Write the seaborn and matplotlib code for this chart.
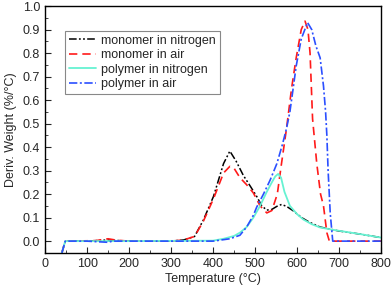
import matplotlib
matplotlib.use("Agg")
import matplotlib.pyplot as plt
from matplotlib.ticker import MultipleLocator, FormatStrFormatter
import seaborn as sns

# DTG curves
t_mono_n2 = [40, 48, 100, 150, 200, 300, 330, 356, 377, 401, 425, 440, 455, 472, 490, 504, 516,
             528, 540, 552, 563, 575, 590, 611, 630, 655, 700, 750, 800]
d_mono_n2 = [-0.05, 0.0, 0.0, 0.005, 0.0, 0.0, 0.005, 0.02, 0.09, 0.19, 0.33, 0.383, 0.34, 0.28,
             0.23, 0.19, 0.15, 0.132, 0.135, 0.148, 0.156, 0.148, 0.13, 0.1, 0.08, 0.06, 0.043,
             0.03, 0.015]

t_mono_air = [40, 48, 120, 150, 170, 200, 300, 330, 356, 377, 401, 425, 440, 450, 464, 480, 496,
              512, 528, 540, 553, 563, 575, 587, 598, 610, 619, 626, 631, 637, 647, 656, 663, 671,
              677, 700, 800]
d_mono_air = [-0.05, 0.0, 0.002, 0.01, 0.004, 0.0, 0.0, 0.005, 0.02, 0.085, 0.18, 0.29, 0.318,
              0.31, 0.27, 0.24, 0.205, 0.15, 0.12, 0.13, 0.2, 0.33, 0.48, 0.65, 0.78, 0.9, 0.936,
              0.9, 0.8, 0.52, 0.33, 0.2, 0.15, 0.036, 0.0, 0.0, 0.0]

t_poly_n2 = [40, 48, 200, 400, 425, 450, 464, 480, 496, 512, 528, 540, 548, 555, 562, 570, 583,
             600, 615, 635, 655, 680, 700, 750, 800]
d_poly_n2 = [-0.05, 0.0, 0.0, 0.002, 0.01, 0.022, 0.036, 0.06, 0.1, 0.15, 0.21, 0.25, 0.275,
             0.286, 0.27, 0.21, 0.15, 0.115, 0.092, 0.072, 0.058, 0.05, 0.044, 0.03, 0.015]

t_poly_air = [40, 48, 100, 150, 160, 300, 400, 440, 464, 480, 496, 504, 520, 536, 552, 565, 575,
              583, 590, 598, 610, 625, 635, 645, 655, 663, 668, 671, 674, 679, 685, 700, 800]
d_poly_air = [-0.05, 0.0, 0.0, -0.005, 0.0, 0.0, 0.0, 0.01, 0.025, 0.06, 0.11, 0.145, 0.2, 0.26,
              0.33, 0.41, 0.48, 0.55, 0.64, 0.745, 0.86, 0.93, 0.9, 0.83, 0.78, 0.66, 0.55, 0.45,
              0.3, 0.12, 0.0, 0.0, 0.0]

sns.set_style("ticks")
plt.rcParams['font.family'] = ['Liberation Sans', 'DejaVu Sans']

fig = plt.figure(figsize=(3.92, 2.90), dpi=100)
ax = fig.add_axes([0.115, 0.128, 0.857, 0.851])

sns.lineplot(x=t_mono_n2, y=d_mono_n2, ax=ax, color="black", lw=1.1,
             linestyle=(0, (5, 1.5, 1.2, 1.5, 1.2, 1.5)), label="monomer in nitrogen")
sns.lineplot(x=t_mono_air, y=d_mono_air, ax=ax, color="#ff1a1a", lw=1.2,
             linestyle=(0, (5, 3)), label="monomer in air")
sns.lineplot(x=t_poly_n2, y=d_poly_n2, ax=ax, color="#66f2d2", lw=1.3,
             linestyle="-", label="polymer in nitrogen")
sns.lineplot(x=t_poly_air, y=d_poly_air, ax=ax, color="#2b4fff", lw=1.2,
             linestyle=(0, (5, 1.5, 1.2, 1.5)), label="polymer in air")

ax.set_xlim(0, 800)
ax.set_ylim(-0.05, 1.0)
ax.xaxis.set_major_locator(MultipleLocator(100))
ax.xaxis.set_minor_locator(MultipleLocator(50))
ax.yaxis.set_major_locator(MultipleLocator(0.1))
ax.yaxis.set_minor_locator(MultipleLocator(0.05))
ax.yaxis.set_major_formatter(FormatStrFormatter('%.1f'))
ax.tick_params(which='both', direction='in', top=False, right=False, labelsize=9)
ax.tick_params(which='major', length=4)
ax.tick_params(which='minor', length=2)
for s in ax.spines.values():
    s.set_visible(True)
    s.set_color("black")
    s.set_linewidth(1.0)

ax.set_xlabel("Temperature (°C)", fontsize=9, labelpad=2)
ax.set_ylabel("Deriv. Weight (%/°C)", fontsize=9, labelpad=4)

leg = ax.legend(loc="upper left", bbox_to_anchor=(0.06, 0.9), fontsize=9, frameon=True,
                fancybox=False, framealpha=1, edgecolor="#888888", handlelength=2.2,
                labelspacing=0.2, borderpad=0.3, handletextpad=0.4, borderaxespad=0)
leg.get_frame().set_linewidth(0.8)

fig.savefig("out.png", dpi=100)
